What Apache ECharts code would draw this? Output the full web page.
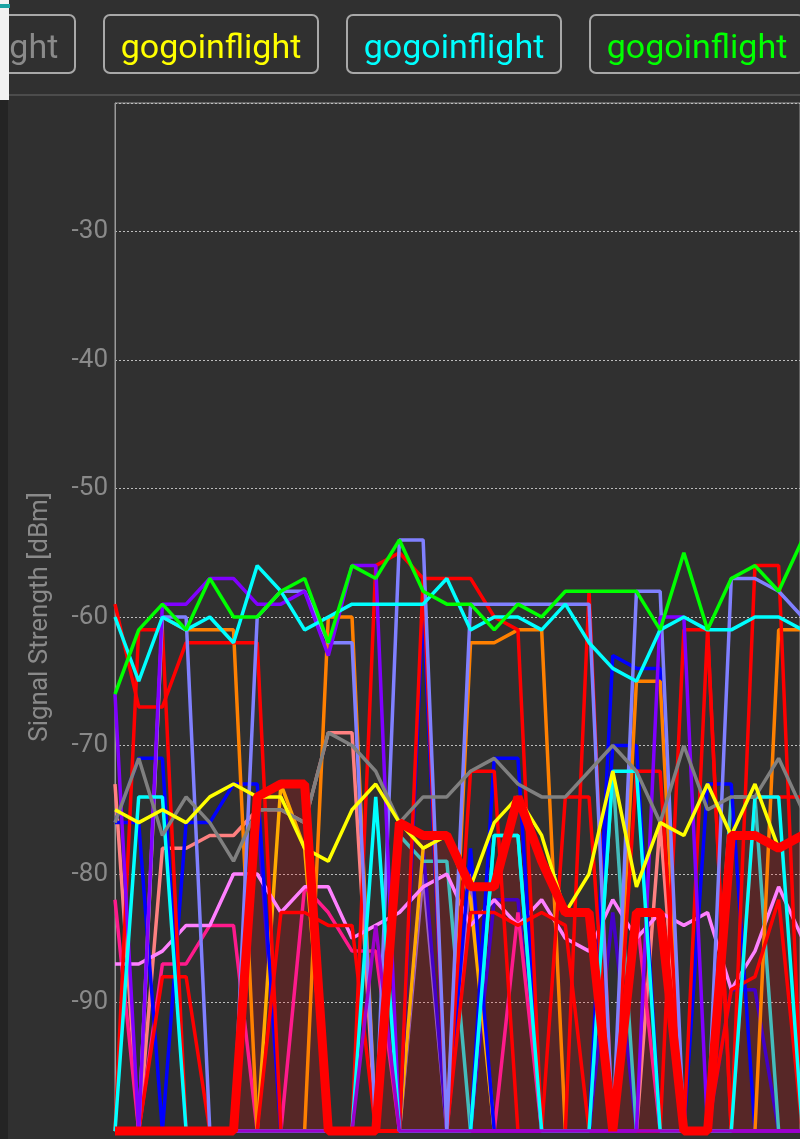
<!DOCTYPE html>
<html>
<head>
<meta charset="utf-8">
<script src="https://cdn.jsdelivr.net/npm/echarts@6/dist/echarts.min.js"></script>
<style>
  html, body { margin: 0; padding: 0; background: #303030; overflow: hidden; }
  #wrap { position: relative; width: 800px; height: 1139px; background: #303030; font-family: Roboto, sans-serif; }
  #main { position: absolute; left: 0; top: 0; width: 800px; height: 1139px; }
  .btn {
    position: absolute; top: 14px; height: 60px; width: 216px; box-sizing: border-box;
    border: 2px solid #a8a8a8; border-radius: 7px;
    font-size: 34px; line-height: 60px; text-align: center; white-space: nowrap;
  }
  .strip-top { position: absolute; left: 0; top: 0; width: 9px; height: 100px; background: #f2f2f2; z-index: 5; }
  .strip { position: absolute; left: 0; top: 100px; width: 8px; height: 1039px; background: #242424; z-index: 5; }
  .tab { position: absolute; left: 0; top: 4px; width: 10px; height: 4px; background: #1aa3a3; z-index: 6; }
  .sep { position: absolute; left: 8px; top: 94px; width: 792px; height: 2px; background: #4c4c4c; }
</style>
</head>
<body>
<div id="wrap">
  <div id="main"></div>
  <div class="sep"></div>
  <div class="btn" style="left:-140px; color:#8a8a8a;">gogoinflight</div>
  <div class="btn" style="left:103px; color:#ffff00;">gogoinflight</div>
  <div class="btn" style="left:346px; color:#00ffff;">gogoinflight</div>
  <div class="btn" style="left:589px; color:#00ff00;">gogoinflight</div>
  <div class="strip-top"></div>
  <div class="strip"></div>
  <div class="tab"></div>
</div>
<script>
// scan time in seconds
var scanTimes = [0, 5, 10, 15, 20, 25, 30, 35, 40, 45, 50, 55, 60, 65, 70, 75, 80, 85, 90, 95, 100, 105, 110, 115, 120, 125, 130, 135, 140, 145];

// signal strength per access point, dBm (-100 = not seen)
var green    = [-66, -61, -59, -61, -57, -60, -60, -58, -57, -62, -56, -57, -54, -58, -59, -59, -61, -59, -60, -58, -58, -58, -58, -61, -55, -61, -57, -56, -58, -54];
var cyan     = [-60, -65, -60, -61, -60, -62, -56, -58, -61, -60, -59, -59, -59, -59, -57, -61, -60, -60, -61, -59, -62, -64, -65, -61, -60, -61, -61, -60, -60, -61];
var purple   = [-66, -100, -59, -59, -57, -57, -59, -59, -58, -63, -56, -56, -100, -100, -100, -100, -100, -100, -100, -100, -100, -100, -100, -60, -60, -100, -100, -100, -100, -100];
var lavender = [-100, -100, -60, -60, -100, -100, -60, -58, -58, -62, -62, -100, -54, -54, -100, -59, -59, -59, -59, -59, -59, -100, -58, -58, -100, -100, -57, -57, -58, -60];
var red1     = [-59, -67, -67, -62, -62, -62, -62, -100, -100, -100, -100, -56, -55, -57, -57, -57, -60, -61, -100, -100, -100, -100, -100, -100, -61, -61, -100, -56, -56, -100];
var red2     = [-100, -61, -61, -100, -100, -100, -100, -83, -83, -84, -84, -100, -100, -100, -100, -72, -72, -100, -100, -74, -74, -100, -72, -72, -100, -100, -100, -74, -74, -74];
var red3     = [-100, -100, -88, -88, -100, -100, -100, -100, -100, -100, -100, -100, -100, -100, -100, -83, -83, -84, -83, -84, -100, -100, -100, -100, -100, -100, -89, -88, -82, -100];
var red4     = [-100, -100, -100, -100, -100, -100, -100, -100, -100, -100, -100, -100, -100, -57, -100, -100, -100, -100, -100, -100, -58, -100, -100, -100, -100, -61, -100, -100, -100, -100];
var orange   = [-100, -100, -60, -61, -61, -61, -100, -100, -100, -60, -60, -100, -100, -100, -100, -62, -62, -61, -61, -100, -100, -100, -65, -65, -100, -100, -100, -100, -61, -61];
var amber    = [-100, -100, -100, -100, -100, -100, -100, -73, -78, -100, -100, -100, -100, -78, -77, -82, -100, -100, -100, -100, -100, -100, -100, -100, -100, -100, -100, -100, -100, -100];
var blue1    = [-76, -71, -71, -100, -100, -100, -100, -100, -100, -100, -100, -100, -100, -59, -100, -100, -71, -71, -100, -100, -100, -63, -64, -64, -100, -100, -100, -100, -100, -100];
var blue2    = [-76, -76, -100, -76, -76, -73, -73, -100, -100, -100, -100, -100, -100, -100, -100, -78, -100, -100, -100, -100, -100, -70, -70, -100, -100, -73, -73, -100, -100, -100];
var cyan2    = [-100, -74, -74, -100, -100, -100, -100, -100, -100, -100, -100, -74, -100, -100, -100, -100, -77, -77, -100, -100, -100, -72, -72, -100, -100, -100, -100, -74, -74, -100];
var teal     = [-100, -100, -100, -100, -100, -100, -100, -100, -100, -100, -100, -100, -77, -79, -79, -100, -77, -77, -100, -100, -100, -72, -100, -100, -100, -100, -74, -74, -100, -100];
var salmon   = [-73, -100, -78, -78, -77, -77, -75, -75, -76, -69, -69, -100, -100, -100, -100, -100, -100, -100, -100, -100, -100, -100, -100, -76, -100, -100, -100, -100, -100, -100];
var gray     = [-76, -71, -77, -74, -76, -79, -75, -75, -76, -69, -70, -72, -76, -74, -74, -72, -71, -73, -74, -74, -72, -70, -72, -76, -70, -75, -74, -74, -71, -75];
var yellow   = [-75, -76, -75, -76, -74, -73, -74, -74, -78, -79, -75, -73, -76, -78, -77, -81, -76, -74, -77, -83, -80, -72, -81, -76, -77, -73, -77, -73, -78, -77];
var deepPink = [-82, -100, -87, -87, -84, -84, -100, -100, -81, -83, -86, -86, -100, -100, -100, -100, -100, -83, -100, -100, -100, -100, -83, -100, -100, -100, -100, -100, -100, -100];
var lightPink = [-87, -87, -86, -84, -84, -80, -80, -83, -81, -81, -85, -84, -83, -81, -80, -84, -82, -84, -82, -85, -86, -82, -85, -83, -84, -83, -89, -86, -81, -85];
var indigo   = [-100, -100, -100, -100, -100, -100, -75, -100, -100, -100, -100, -100, -100, -78, -100, -100, -82, -82, -100, -100, -100, -83, -100, -100, -100, -100, -89, -89, -100, -100];
var orchid   = [-100, -100, -100, -100, -100, -100, -100, -100, -100, -100, -100, -100, -100, -80, -100, -80, -100, -100, -100, -100, -100, -100, -100, -100, -100, -100, -100, -100, -100, -100];
var violet   = [-100, -100, -100, -100, -100, -100, -100, -100, -100, -100, -100, -84, -100, -100, -100, -100, -100, -100, -100, -100, -100, -100, -100, -100, -100, -100, -100, -100, -100, -100];
// selected access point (drawn thick with fill)
var selected = [-100, -100, -100, -100, -100, -100, -74, -73, -73, -100, -100, -100, -76, -77, -77, -81, -81, -74, -79, -83, -83, -100, -83, -83, -100, -100, -77, -77, -78, -77];

var yTicks = [-30, -40, -50, -60, -70, -80, -90];

function pts(vals) {
  return vals.map(function (v, i) { return [scanTimes[i], v]; });
}

function thin(vals, color) {
  return {
    type: 'line', name: 'gogoinflight', data: pts(vals),
    showSymbol: false, clip: false, silent: true,
    lineStyle: { color: color, width: 3.5 }
  };
}

var series = [
  {
    type: 'line', data: pts(selected), showSymbol: false, clip: false, silent: true,
    lineStyle: { width: 0 },
    areaStyle: { color: 'rgba(255,0,0,0.27)', origin: 'start' }
  },
  thin(orchid, '#a060c0'),
  thin(indigo, '#4400c8'),
  thin(teal, '#44bcbc'),
  thin(amber, '#ffaa00'),
  thin(salmon, '#ff8080'),
  thin(deepPink, '#ff1a8c'),
  thin(lightPink, '#ff80ff'),
  thin(blue1, '#0000ff'),
  thin(blue2, '#0000ff'),
  thin(orange, '#ff8000'),
  thin(red3, '#ff0000'),
  thin(red2, '#ff0000'),
  thin(red4, '#ff0000'),
  thin(red1, '#ff0000'),
  thin(lavender, '#8080ff'),
  thin(purple, '#8000ff'),
  thin(cyan2, '#00ffff'),
  thin(gray, '#808080'),
  thin(yellow, '#ffff00'),
  thin(cyan, '#00ffff'),
  thin(green, '#00ff00'),
  thin(violet, '#9c00cc'),
  {
    type: 'line', data: pts(selected), showSymbol: false, clip: false, silent: true,
    lineStyle: { color: '#ff0000', width: 9 }
  }
];

var chart = echarts.init(document.getElementById('main'));
chart.setOption({
  backgroundColor: 'transparent',
  animation: false,
  grid: { left: 115, right: 0, top: 103, bottom: 8, show: true, borderColor: '#9a9a9a', borderWidth: 1 },
  xAxis: {
    type: 'value', min: 0, max: 144.5,
    axisLine: { show: true, lineStyle: { color: '#b0b0b0', width: 1 } },
    axisTick: { show: false }, axisLabel: { show: false }, splitLine: { show: false }
  },
  yAxis: {
    type: 'value', min: -100, max: -20, interval: 10,
    name: 'Signal Strength [dBm]', nameLocation: 'middle', nameGap: 62,
    nameTextStyle: { color: '#8a8a8a', fontSize: 26, fontFamily: 'Roboto' },
    axisLine: { show: true, lineStyle: { color: '#9a9a9a', width: 1 } },
    axisTick: { show: false },
    axisLabel: {
      color: '#8a8a8a', fontSize: 26, fontFamily: 'Roboto', margin: 7,
      formatter: function (v) { return yTicks.indexOf(v) >= 0 ? String(v) : ''; }
    },
    splitLine: { show: true, lineStyle: { color: '#bdbdbd', width: 1, type: [2, 2] } }
  },
  series: series
});
</script>
</body>
</html>
